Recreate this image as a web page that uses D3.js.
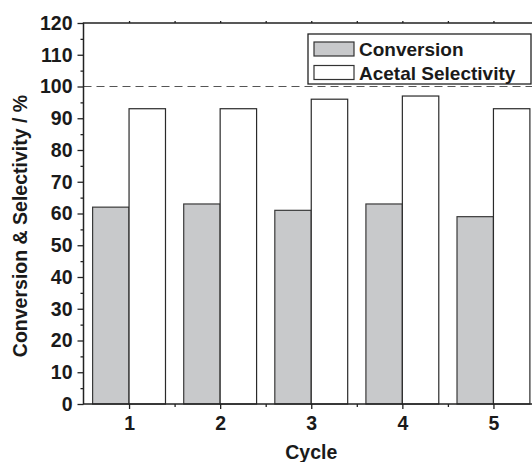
<!doctype html>
<html>
<head>
<style>
  body { margin: 0; background: #fff; }
  svg { display: block; font-family: "Liberation Sans", Arial, sans-serif; font-weight: bold; }
</style>
<script src="https://d3js.org/d3.v7.min.js"></script>
</head>
<body>
<svg width="532" height="462"></svg>
<script>
var cycles = [1, 2, 3, 4, 5];
var conversion = [62, 63, 61, 63, 59];
var selectivity = [93, 93, 96, 97, 93];
var yTicks = [0, 10, 20, 30, 40, 50, 60, 70, 80, 90, 100, 110, 120];
var seriesNames = ["Conversion", "Acetal Selectivity"];

var svg = d3.select("svg");
var plotL = 83.5, plotR = 539, plotT = 23, plotB = 404;

var x = d3.scaleLinear().domain([0.5, 5.5]).range([plotL, plotR]);
var y = d3.scaleLinear().domain([0, 120]).range([plotB, plotT]);
var barW = x(1.4) - x(1);

var g = svg.append("g");

// bars
g.selectAll(".conv").data(cycles).enter().append("rect")
  .attr("x", function(d) { return x(d) - barW; })
  .attr("y", function(d, i) { return y(conversion[i]); })
  .attr("width", barW)
  .attr("height", function(d, i) { return plotB - y(conversion[i]); })
  .attr("fill", "#c8c9cb").attr("stroke", "#3a3a3a").attr("stroke-width", 1.2);

g.selectAll(".sel").data(cycles).enter().append("rect")
  .attr("x", function(d) { return x(d); })
  .attr("y", function(d, i) { return y(selectivity[i]); })
  .attr("width", barW)
  .attr("height", function(d, i) { return plotB - y(selectivity[i]); })
  .attr("fill", "#fff").attr("stroke", "#2a2a2a").attr("stroke-width", 1.2);

// dashed 100 line
g.append("line")
  .attr("x1", plotL).attr("x2", plotR)
  .attr("y1", y(100)).attr("y2", y(100))
  .attr("stroke", "#555").attr("stroke-width", 1.2)
  .attr("stroke-dasharray", "8,5");

// frame
g.append("rect").attr("x", plotL).attr("y", plotT)
  .attr("width", plotR - plotL).attr("height", plotB - plotT)
  .attr("fill", "none").attr("stroke", "#222").attr("stroke-width", 1.5);

// y axis
g.append("g").attr("transform", "translate(" + plotL + ",0)")
  .call(d3.axisLeft(y).tickValues(yTicks).tickSize(6).tickPadding(5));
g.append("g").attr("transform", "translate(" + plotL + ",0)")
  .call(d3.axisLeft(y).tickValues(d3.range(5, 120, 10)).tickSize(3).tickFormat(""));

// x axis
g.append("g").attr("transform", "translate(0," + plotB + ")")
  .call(d3.axisBottom(x).tickValues(cycles).tickSize(5).tickPadding(7).tickFormat(d3.format("d")));
g.append("g").attr("transform", "translate(0," + plotB + ")")
  .call(d3.axisBottom(x).tickValues([1.5, 2.5, 3.5, 4.5]).tickSize(3).tickFormat(""));
g.append("g").attr("transform", "translate(0," + plotT + ")")
  .call(d3.axisTop(x).tickValues([1, 1.5, 2, 2.5, 3, 3.5, 4, 4.5, 5]).tickSize(2).tickFormat(""));

svg.selectAll(".domain").remove();
svg.selectAll(".tick line").attr("stroke", "#222").attr("stroke-width", 1.3);
svg.selectAll(".tick text").attr("font-size", 19.5).attr("font-family", "Liberation Sans, Arial, sans-serif")
  .attr("font-weight", "bold").attr("fill", "#1a1a1a");

// axis titles
svg.append("text").attr("x", x(3)).attr("y", 459)
  .attr("text-anchor", "middle").attr("font-size", 19.5).attr("fill", "#1a1a1a")
  .text("Cycle");
svg.append("text").attr("transform", "translate(27," + 226 + ") rotate(-90)")
  .attr("text-anchor", "middle").attr("font-size", 19.5).attr("fill", "#1a1a1a")
  .text("Conversion & Selectivity / %");

// legend
var lg = svg.append("g");
lg.append("rect").attr("x", 308).attr("y", 34).attr("width", 223).attr("height", 50)
  .attr("fill", "#fff").attr("stroke", "#222").attr("stroke-width", 1.3);
var fills = ["#c8c9cb", "#fff"];
seriesNames.forEach(function(n, i) {
  lg.append("rect").attr("x", 314).attr("y", 42 + i * 23.5).attr("width", 40).attr("height", 14)
    .attr("fill", fills[i]).attr("stroke", "#333").attr("stroke-width", 1.2);
  lg.append("text").attr("x", 359).attr("y", 55.5 + i * 24)
    .attr("font-size", 19).attr("fill", "#1a1a1a").text(n);
});
</script>
</body>
</html>
